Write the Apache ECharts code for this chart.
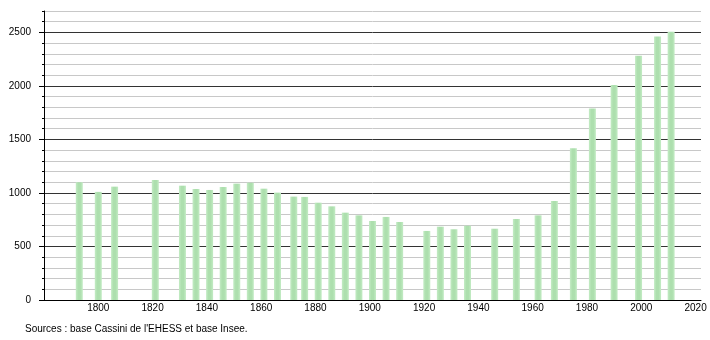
<!DOCTYPE html>
<html>
<head>
<meta charset="utf-8">
<script src="https://cdn.jsdelivr.net/npm/echarts@6/dist/echarts.min.js"></script>
<style>
html,body{margin:0;padding:0;background:#fff;}
#chart{width:710px;height:340px;}
</style>
</head>
<body>
<div id="chart"></div>
<script>
var years = [1793,1800,1806,1821,1831,1836,1841,1846,1851,1856,1861,1866,1872,1876,1881,1886,1891,1896,1901,1906,1911,1921,1926,1931,1936,1946,1954,1962,1968,1975,1982,1990,1999,2006,2011];
var population = [1100,1010,1059,1121,1068,1037,1028,1056,1087,1096,1040,1003,966,963,909,875,816,791,738,776,729,645,685,661,694,666,757,791,925,1418,1788,2009,2283,2461,2505];
var xTickLabels = [1800,1820,1840,1860,1880,1900,1920,1940,1960,1980,2000,2020];
var yTickLabels = [0,500,1000,1500,2000,2500];
var sourceText = "Sources : base Cassini de l'EHESS et base Insee.";

var data = years.map(function(y,i){return [y, population[i]];});
var font = '"Liberation Sans", Arial, sans-serif';
var chart = echarts.init(document.getElementById('chart'), null, {renderer:'canvas'});
chart.setOption({
  animation:false,
  backgroundColor:'#ffffff',
  grid:{left:44, right:9, top:11, bottom:40, containLabel:false},
  title:{text:sourceText, left:20, top:319, textStyle:{fontFamily:font, fontSize:10, fontWeight:'normal', color:'#000'}},
  xAxis:{
    type:'value', min:1780, max:2022, interval:20,
    axisLine:{show:true, onZero:false, lineStyle:{color:'#000', width:1}},
    axisTick:{show:false},
    splitLine:{show:false},
    axisLabel:{margin:3, fontFamily:font, fontSize:10, color:'#000',
      formatter:function(v){return xTickLabels.indexOf(v)>=0 ? String(v) : '';}}
  },
  yAxis:[{
    type:'value', min:0, max:2700, interval:100, position:'left',
    axisLine:{show:true, lineStyle:{color:'#000', width:1}},
    axisTick:{show:true, length:2, lineStyle:{color:'#000'}},
    axisLabel:{show:false},
    splitLine:{show:true, lineStyle:{color:['#333','#c8c8c8','#c8c8c8','#c8c8c8','#c8c8c8'], width:1}}
  },{
    type:'value', min:0, max:2700, interval:500, position:'left', offset:0,
    axisLine:{show:false},
    axisTick:{show:true, length:5, lineStyle:{color:'#000'},
      customValues: yTickLabels},
    splitLine:{show:false},
    axisLabel:{margin:13, fontFamily:font, fontSize:10, color:'#000',
      customValues: yTickLabels,
      formatter:function(v){return yTickLabels.indexOf(v)>=0 ? String(v) : '';}}
  }],
  series:[{
    type:'bar', xAxisIndex:0, yAxisIndex:0, barWidth:7,
    data:data,
    itemStyle:{color:new echarts.graphic.LinearGradient(0,0,1,0,[
      {offset:0,color:'#c4ecc5'},{offset:0.35,color:'#addfae'},{offset:0.65,color:'#addfae'},{offset:1,color:'#c4ecc5'}])}
  }]
});
</script>
</body>
</html>
